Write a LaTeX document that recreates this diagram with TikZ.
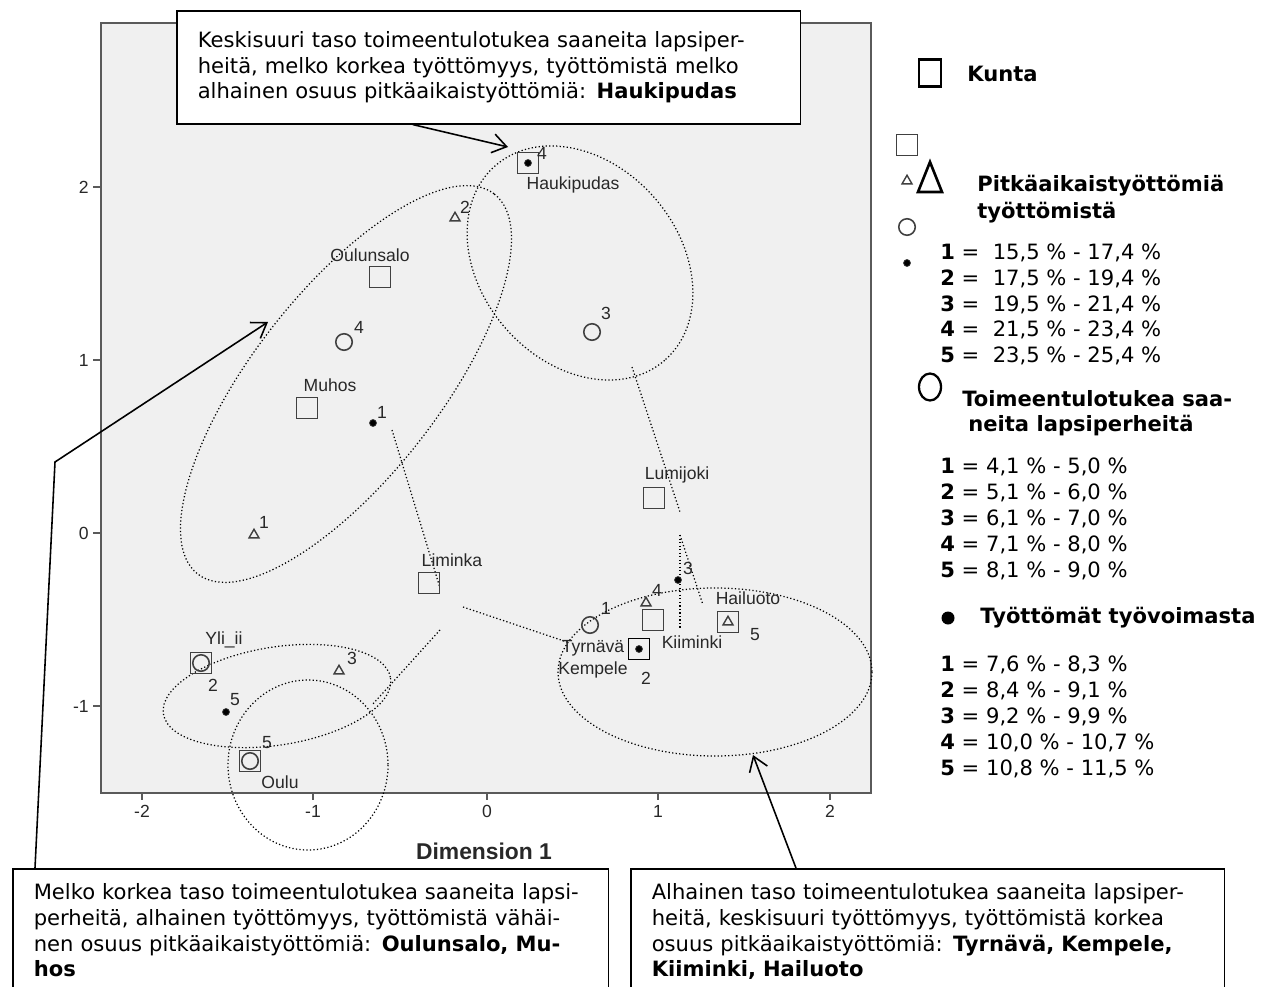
\documentclass[tikz,border=0pt]{standalone}
\usepackage{fontspec}
\setmainfont{DejaVu Sans}
\newfontfamily\spssfont{Liberation Sans}
\usetikzlibrary{arrows.meta,shapes.geometric}
\definecolor{plotbg}    {RGB} {240,240,240}
\definecolor{framegray} {RGB} {90,90,90}
\definecolor{markgray}  {RGB} {64,64,64}
\definecolor{labelgray} {RGB} {40,40,40}

\begin{document}
\begin{tikzpicture}[x=0.02cm,y=-0.02cm,
  >={Straight Barb[length=2.8mm,width=3.8mm]},
  callout/.style={draw=black,line width=0.9pt,fill=white,align=left,anchor=north west,inner xsep=0.42cm,font=\fontsize{12}{14.6}\selectfont},
  sqmark/.style={draw=markgray,line width=0.9pt,minimum size=0.42cm,inner sep=0pt},
  cimark/.style={circle,draw=markgray,line width=0.9pt,minimum size=0.33cm,inner sep=0pt},
  trimark/.style={regular polygon,regular polygon sides=3,draw=markgray,line width=0.8pt,minimum size=0.23cm,inner sep=0pt},
  dotmark/.style={circle,fill=black,draw=markgray,line width=0.4pt,minimum size=0.14cm,inner sep=0pt},
  lbl/.style={font=\spssfont\fontsize{10}{12}\selectfont,text=labelgray,inner sep=0pt},
  ring/.style={line width=0.7pt,dash pattern=on 0.7pt off 1.3pt},
  legtext/.style={align=left,anchor=north west,inner sep=0pt,font=\fontsize{12}{14.6}\selectfont}]
\useasboundingbox[fill=white] (0,0) rectangle (1273,986);

% plot area
\draw[framegray,line width=1.1pt,fill=plotbg] (101,23) rectangle (871,793);
\draw[framegray,line width=0.8pt] (142,793) -- (142,800);
\draw[framegray,line width=0.8pt] (313,793) -- (313,800);
\draw[framegray,line width=0.8pt] (487,793) -- (487,800);
\draw[framegray,line width=0.8pt] (658,793) -- (658,800);
\draw[framegray,line width=0.8pt] (830,793) -- (830,800);
\draw[framegray,line width=0.8pt] (93,187) -- (101,187);
\draw[framegray,line width=0.8pt] (93,360) -- (101,360);
\draw[framegray,line width=0.8pt] (93,533) -- (101,533);
\draw[framegray,line width=0.8pt] (93,706) -- (101,706);
\node[lbl,anchor=north] (xm2) at (142,805) {-2};
\node[lbl,anchor=north] (xm1) at (313,805) {-1};
\node[lbl,anchor=north] (xz) at (487,805) {0};
\node[lbl,anchor=north] (xp1) at (658,805) {1};
\node[lbl,anchor=north] (xp2) at (830,805) {2};
\node[lbl,anchor=east] (yp2) at (89,187) {2};
\node[lbl,anchor=east] (yp1) at (89,360) {1};
\node[lbl,anchor=east] (yz) at (89,533) {0};
\node[lbl,anchor=east] (ym1) at (89,706) {-1};
\node[lbl,font=\spssfont\bfseries\fontsize{13}{15}\selectfont] (dimlabel) at (484,851) {Dimension 1};

% groups
\draw[ring,rotate around={52:(346,384)}] (346,384) ellipse [x radius=241,y radius=93];
\draw[ring,rotate around={-49:(580,263)}] (580,263) ellipse [x radius=129,y radius=99];
\draw[ring,rotate around={9:(277,696)}] (277,696) ellipse [x radius=115,y radius=49];
\draw[ring] (308,765) ellipse [x radius=80,y radius=85];
\draw[ring] (715,672) ellipse [x radius=157,y radius=84];
\draw[ring] (392,430) -- (440,588);
\draw[ring] (463,607) -- (567,642);
\draw[ring] (440,630) -- (372,705);
\draw[ring] (632,367) -- (680,512);
\draw[ring] (680,535) -- (703,605);
\draw[ring] (680,535) -- (680,628);

% points
\node[trimark] (tri2) at (455,218) {};
\node[lbl] (tri2n) at (465,207) {2};
\node[lbl] (oulunsalolbl) at (370,255) {Oulunsalo};
\node[sqmark] (oulunsalo) at (380,277) {};
\node[cimark] (ci4) at (344,342) {};
\node[lbl] (ci4n) at (359,327) {4};
\node[lbl] (muhoslbl) at (330,385) {Muhos};
\node[sqmark] (muhos) at (307,408) {};
\node[dotmark] (dot1) at (373,423) {};
\node[lbl] (dot1n) at (382,412) {1};
\node[trimark] (tri1) at (254,535) {};
\node[lbl] (tri1n) at (264,522) {1};
\node[sqmark] (haukipudas) at (528,163) {};
\node[dotmark] (dot4) at (528,163) {};
\node[lbl] (dot4n) at (542,153) {4};
\node[lbl] (haukipudaslbl) at (573,185) {Haukipudas};
\node[cimark] (ci3) at (592,332) {};
\node[lbl] (ci3n) at (606,313) {3};
\node[lbl] (lumijokilbl) at (677,475) {Lumijoki};
\node[sqmark] (lumijoki) at (654,498) {};
\node[lbl] (liminkalbl) at (452,560) {Liminka};
\node[sqmark] (liminka) at (429,583) {};
\node[dotmark] (dot3) at (678,580) {};
\node[lbl] (dot3n) at (688,568) {3};
\node[trimark] (tri4) at (646,603) {};
\node[lbl] (tri4n) at (657,590) {4};
\node[cimark] (ci1) at (590,625) {};
\node[lbl] (ci1n) at (606,608) {1};
\node[sqmark] (kiiminki) at (653,620) {};
\node[lbl] (kiiminkilbl) at (692,642) {Kiiminki};
\node[lbl] (hailuotolbl) at (748,598) {Hailuoto};
\node[sqmark] (hailuoto) at (728,622) {};
\node[trimark] (tri5) at (728,622) {};
\node[lbl] (tri5n) at (755,635) {5};
\node[lbl] (tyrnavalbl) at (593,648) {Tyrnävä};
\node[sqmark,draw=black] (tyrnava) at (639,649) {};
\node[dotmark] (dot2) at (639,649) {};
\node[lbl] (kempelelbl) at (593,670) {Kempele};
\node[lbl] (dot2n) at (646,678) {2};
\node[lbl] (yliiilbl) at (224,640) {Yli\_ii};
\node[sqmark] (yliii) at (201,663) {};
\node[cimark] (ci2) at (201,663) {};
\node[lbl] (ci2n) at (213,685) {2};
\node[dotmark] (dot5) at (226,712) {};
\node[lbl] (dot5n) at (235,700) {5};
\node[trimark] (tri3) at (339,671) {};
\node[lbl] (tri3n) at (352,658) {3};
\node[sqmark] (oulu) at (250,761) {};
\node[cimark] (ci5) at (250,761) {};
\node[lbl] (ci5n) at (267,743) {5};
\node[lbl] (oululbl) at (280,782) {Oulu};

% legend
\node[draw=black,line width=1.2pt,minimum width=0.44cm,minimum height=0.54cm,inner sep=0pt] (kuntakey) at (930,73) {};
\node[font=\bfseries\fontsize{12}{14.6}\selectfont,anchor=west,inner sep=0pt] (kuntatxt) at (967,74) {Kunta};
\node[sqmark] (sqkey) at (907,145) {};
\node[trimark] (trikey) at (907,181) {};
\draw[line width=1.5pt] (918,192) -- (930,162) -- (942,192) -- cycle;
\node[legtext,font=\bfseries\fontsize{12}{15.4}\selectfont] (pitkatxt) at (977,175) {Pitkäaikaistyöttömiä\\työttömistä};
\node[cimark] (cikey) at (907,227) {};
\node[dotmark] (dotkey) at (907,263) {};
\node[legtext] (pitkalist) at (940,244) {\textbf{1} =~ 15,5 \% - 17,4 \%\\\textbf{2} =~ 17,5 \% - 19,4 \%\\\textbf{3} =~ 19,5 \% - 21,4 \%\\\textbf{4} =~ 21,5 \% - 23,4 \%\\\textbf{5} =~ 23,5 \% - 25,4 \%};
\draw[line width=1.3pt] (930,387) ellipse [x radius=11,y radius=13.5];
\node[legtext,font=\bfseries\fontsize{12}{14.2}\selectfont] (toimtxt) at (962,390) {Toimeentulotukea saa-\\\hspace{0.12cm}neita lapsiperheitä};
\node[legtext,font=\fontsize{12}{14.9}\selectfont] (toimlist) at (940,457) {\textbf{1} = 4,1 \% - 5,0 \%\\\textbf{2} = 5,1 \% - 6,0 \%\\\textbf{3} = 6,1 \% - 7,0 \%\\\textbf{4} = 7,1 \% - 8,0 \%\\\textbf{5} = 8,1 \% - 9,0 \%};
\fill (948,618) circle [radius=6.5];
\node[font=\bfseries\fontsize{12}{14.6}\selectfont,anchor=west,inner sep=0pt] (tyotxt) at (980,618) {Työttömät työvoimasta};
\node[legtext,font=\fontsize{12}{14.9}\selectfont] (tyolist) at (940,655) {\textbf{1} = 7,6 \% - 8,3 \%\\\textbf{2} = 8,4 \% - 9,1 \%\\\textbf{3} = 9,2 \% - 9,9 \%\\\textbf{4} = 10,0 \% - 10,7 \%\\\textbf{5} = 10,8 \% - 11,5 \%};

% callouts
\node[callout,text width=11.64cm,minimum width=12.48cm,minimum height=2.26cm] (topbox) at (176,10) {Keskisuuri taso toimeentulotukea saaneita lapsiper-\\heitä, melko korkea työttömyys, työttömistä melko\\alhainen osuus pitkäaikaistyöttömiä: \textbf{Haukipudas}};
\node[callout,text width=11.08cm,inner ysep=0.3cm] (leftbox) at (12,868) {Melko korkea taso toimeentulotukea saaneita lapsi-\\perheitä, alhainen työttömyys, työttömistä vähäi-\\nen osuus pitkäaikaistyöttömiä: \textbf{Oulunsalo, Mu-}\\\textbf{hos}\\\mbox{}};
\node[callout,text width=11.04cm,inner ysep=0.3cm] (rightbox) at (630,868) {Alhainen taso toimeentulotukea saaneita lapsiper-\\heitä, keskisuuri työttömyys, työttömistä korkea\\osuus pitkäaikaistyöttömiä: \textbf{Tyrnävä, Kempele,}\\\textbf{Kiiminki, Hailuoto}\\\mbox{}};
\coordinate (hauktip) at (508,147);
\coordinate (leftbend) at (55,462);
\coordinate (lefttip) at (268,322);
\coordinate (righttip) at (753,755);
\draw[line width=0.9pt,->] (topbox.217.7) -- (hauktip);
\draw[line width=0.9pt,->] ([xshift=0.46cm]leftbox.north west) -- (leftbend) -- (lefttip);
\draw[line width=0.9pt,->] ([xshift=3.32cm]rightbox.north west) -- (righttip);
\end{tikzpicture}
\end{document}
